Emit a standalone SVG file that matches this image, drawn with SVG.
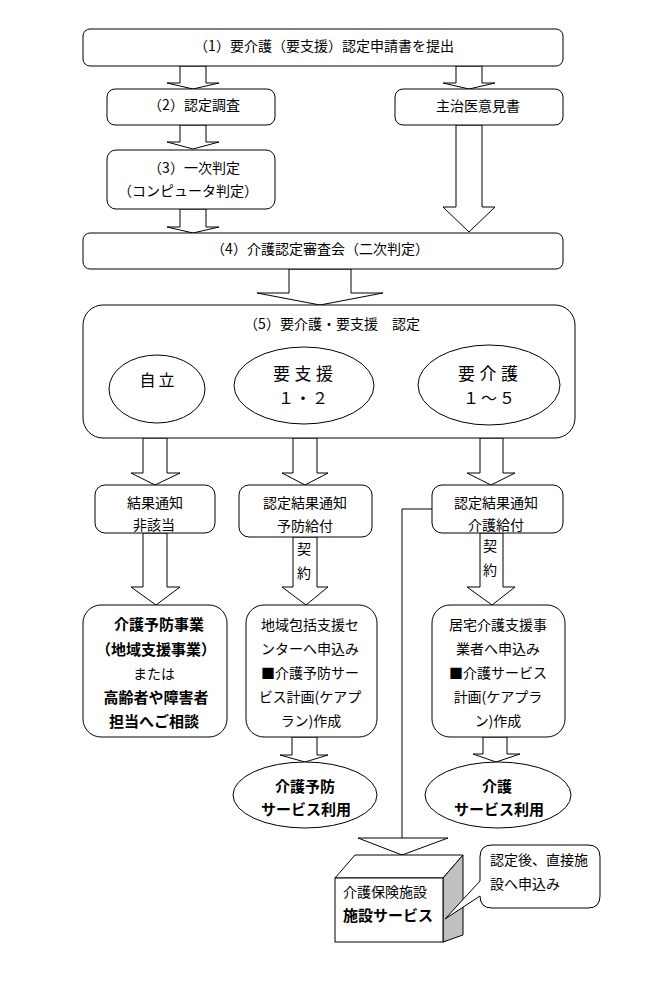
<svg xmlns="http://www.w3.org/2000/svg" width="671" height="1000" viewBox="0 0 671 1000">
<style>
.box{fill:#fff;stroke:#000;stroke-width:1}
.arr{fill:#fff;stroke:#000;stroke-width:1;stroke-linejoin:miter}
.ln{fill:none;stroke:#000;stroke-width:1}
text{font-family:"Noto Sans CJK JP","Noto Sans CJK SC",sans-serif;font-size:14px;fill:#000}
.c{text-anchor:middle}
.b{font-weight:bold;font-size:15px}
.big{font-size:17px}
</style>
<rect width="671" height="1000" fill="#fff"/>
<g id="connectors">
<polygon class="arr" points="180,66 180,83 167,83 193,89 219,83 206,83 206,66"/>
<polygon class="arr" points="456,66 456,83 443,83 469,89 495,83 482,83 482,66"/>
<polygon class="arr" points="180,125 180,142 167,142 193,149 219,142 206,142 206,125"/>
<polygon class="arr" points="180,209 180,227 167,227 193,233 219,227 206,227 206,209"/>
<polygon class="arr" points="456,125 456,207 443,207 469,232 495,207 482,207 482,125"/>
<polygon class="arr" points="289,269 289,293 257,293 320,305 383,293 351,293 351,269"/>
<polygon class="arr" points="143,438 143,473 131,473 155,485 180,473 167,473 167,438"/>
<polygon class="arr" points="293,438 293,473 282,473 305,485 328,473 317,473 317,438"/>
<polygon class="arr" points="480,438 480,473 467,473 491,485 515,473 503,473 503,438"/>
<polygon class="arr" points="143,533 143,587 131,587 156,605 180,587 167,587 167,533"/>
<polygon class="arr" points="293,537 293,587 282,587 306,605 328,587 317,587 317,537"/>
<polygon class="arr" points="480,533 480,587 467,587 492,605 515,587 503,587 503,533"/>
<polygon class="arr" points="292,737 292,755 280,755 305,762 328,755 317,755 317,737"/>
<polygon class="arr" points="483,737 483,754 473,754 496,762 520,754 507,754 507,737"/>
<text class="c" x="304" y="554">契</text>
<text class="c" x="304" y="577.5">約</text>
<text class="c" x="490" y="551">契</text>
<text class="c" x="490" y="575">約</text>
<path class="ln" d="M432,509 H402 V838"/>
<polygon class="arr" points="358,838 448,838 402,855"/>
</g>
<g id="n1">
<rect class="box" x="83" y="29" width="480" height="37" rx="7"/>
<text class="c" x="324" y="51">（1）要介護（要支援）認定申請書を提出</text>
</g>
<g id="n2">
<rect class="box" x="107" y="89" width="168" height="36" rx="8"/>
<text class="c" x="194" y="110">（2）認定調査</text>
</g>
<g id="n-doctor">
<rect class="box" x="395" y="89" width="168" height="36" rx="8"/>
<text class="c" x="478" y="110.5">主治医意見書</text>
</g>
<g id="n3">
<rect class="box" x="107" y="150" width="168" height="59" rx="9"/>
<text class="c" x="194" y="173">（3）一次判定</text>
<text class="c" x="188" y="196">（コンピュータ判定）</text>
</g>
<g id="n4">
<rect class="box" x="83" y="233" width="480" height="36" rx="7"/>
<text class="c" x="320" y="254">（4）介護認定審査会（二次判定）</text>
</g>
<g id="n5">
<rect class="box" x="83" y="305" width="492" height="133" rx="20"/>
<text class="c" x="332" y="329">（5）要介護・要支援　認定</text>
</g>
<g id="e-jiritsu">
<ellipse class="box" cx="157" cy="389" rx="48" ry="34"/>
<text class="c" x="157" y="386" style="font-size:16px" textLength="35" lengthAdjust="spacing">自立</text>
</g>
<g id="e-shien">
<ellipse class="box" cx="304" cy="385.5" rx="70" ry="38.5"/>
<text class="c big" x="303" y="380" textLength="60" lengthAdjust="spacing">要支援</text>
<text class="c" x="303" y="404" style="font-size:16px" textLength="50" lengthAdjust="spacing">１・２</text>
</g>
<g id="e-kaigo">
<ellipse class="box" cx="489" cy="385" rx="71" ry="40"/>
<text class="c big" x="488" y="380" textLength="60" lengthAdjust="spacing">要介護</text>
<text class="c" x="489" y="404" style="font-size:16px" textLength="52" lengthAdjust="spacing">１～５</text>
</g>
<g id="r1">
<rect class="box" x="95" y="485" width="120" height="48" rx="10"/>
<text class="c" x="155" y="507.5">結果通知</text>
<text class="c" x="154" y="529.5">非該当</text>
</g>
<g id="r2">
<rect class="box" x="239" y="485" width="133" height="52" rx="10"/>
<text class="c" x="305" y="507.5">認定結果通知</text>
<text class="c" x="305" y="530.5">予防給付</text>
</g>
<g id="r3">
<rect class="box" x="432" y="485" width="131" height="48" rx="10"/>
<text class="c" x="496" y="507.5">認定結果通知</text>
<text class="c" x="496" y="529.5">介護給付</text>
</g>
<g id="b1">
<rect class="box" x="83" y="605" width="144" height="132" rx="18"/>
<text class="c b" x="159" y="629.7">介護予防事業</text>
<text class="c b" x="156" y="654.5">（地域支援事業）</text>
<text class="c" x="154" y="679">または</text>
<text class="c b" x="156" y="703">高齢者や障害者</text>
<text class="c b" x="154" y="726.7">担当へご相談</text>
</g>
<g id="b2">
<rect class="box" x="246" y="605" width="131" height="132" rx="18"/>
<text class="c" x="310" y="629.5">地域包括支援セ</text>
<text class="c" x="310" y="653.7">ンターへ申込み</text>
<text class="c" x="310" y="677.9">■介護予防サー</text>
<text class="c" x="310" y="702.1">ビス計画(ケアプ</text>
<text class="c" x="311" y="726.3">ラン)作成</text>
</g>
<g id="b3">
<rect class="box" x="432" y="605" width="133" height="132" rx="18"/>
<text class="c" x="498" y="629.5">居宅介護支援事</text>
<text class="c" x="498" y="653.7">業者へ申込み</text>
<text class="c" x="498" y="677.9">■介護サービス</text>
<text class="c" x="498" y="702.1">計画(ケアプラ</text>
<text class="c" x="498" y="726.3">ン)作成</text>
</g>
<g id="u1">
<ellipse class="box" cx="305" cy="795" rx="72" ry="33"/>
<text class="c b" x="305" y="791.5">介護予防</text>
<text class="c b" x="306" y="815">サービス利用</text>
</g>
<g id="u2">
<ellipse class="box" cx="498" cy="795" rx="73" ry="33"/>
<text class="c b" x="497" y="791.5">介護</text>
<text class="c b" x="499" y="814.5">サービス利用</text>
</g>
<g id="facility">
<polygon class="box" points="335,878 355,855 463,855 443,878"/>
<polygon points="443,878 463,855 463,935 443,942" fill="#c0c0c0" stroke="#000" stroke-width="1"/>
<rect class="box" x="335" y="878" width="108" height="64"/>
<text x="343" y="896.5">介護保険施設</text>
<text class="b" x="343" y="920.5">施設サービス</text>
</g>
<g id="callout">
<path class="box" d="M492,845 H588 Q600,845 600,857 V896 Q600,908 588,908 H492 Q480,908 480,896 L445,919 L480,881 V857 Q480,845 492,845 Z"/>
<text x="490" y="865">認定後、直接施</text>
<text x="490" y="889">設へ申込み</text>
</g>
</svg>
